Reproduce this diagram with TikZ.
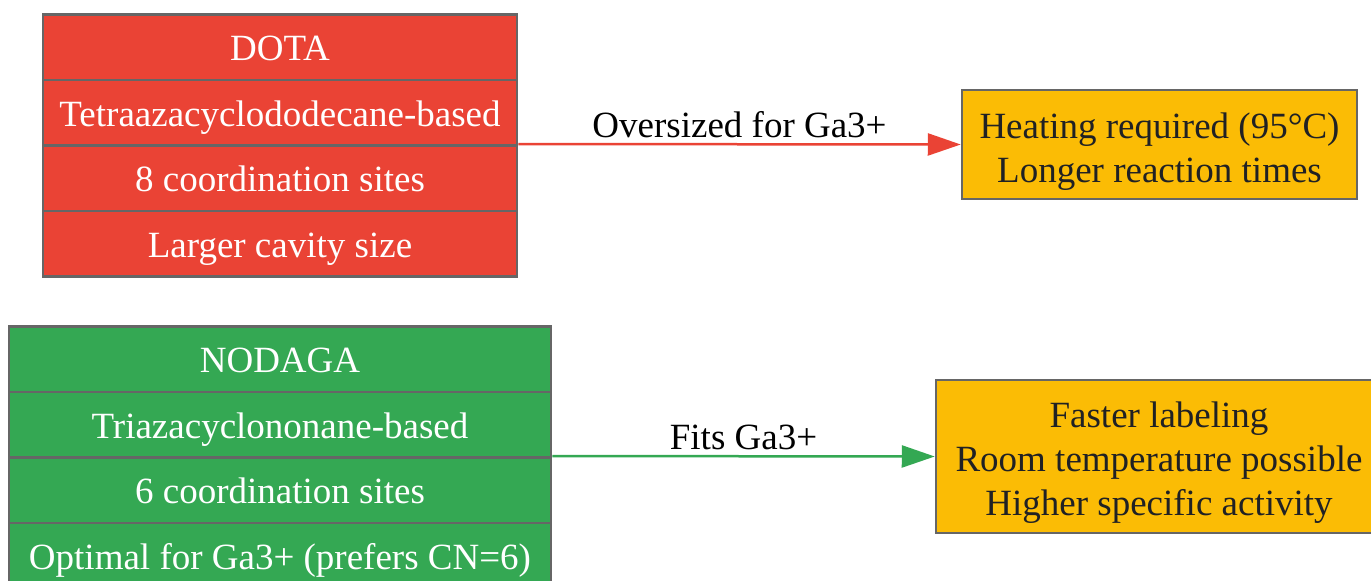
\documentclass[tikz,border=0pt]{standalone}
\usepackage{fontspec}
\setmainfont{Liberation Serif}
\usetikzlibrary{arrows.meta}
\definecolor{gred}{HTML}{EA4335}
\definecolor{ggreen}{HTML}{34A853}
\definecolor{gorange}{HTML}{FBBC05}
\definecolor{bordergray}{HTML}{666666}
\definecolor{darktext}{HTML}{202124}
\tikzset{
  cell/.style={draw=bordergray, line width=2.5pt, rectangle, inner sep=0pt, align=center,
    font=\fontsize{37}{44}\selectfont, text=white, text height=35pt, text depth=8pt},
  redcell/.style={cell, fill=gred, minimum width=474pt, minimum height=65.5pt},
  greencell/.style={cell, fill=ggreen, minimum width=542pt, minimum height=65.5pt},
  resultbox/.style={draw=bordergray, line width=2.5pt, rectangle, fill=gorange, inner sep=0pt},
  resulttext/.style={inner sep=0pt, align=center, font=\fontsize{37}{44}\selectfont, text=darktext},
  conn/.style={line width=2.5pt, -{Triangle[length=33pt,width=22pt]}},
  elabel/.style={font=\fontsize{37}{44}\selectfont, text=black}
}
\begin{document}
\begin{tikzpicture}[x=1pt,y=-1pt]
\useasboundingbox (0,0) rectangle (1371,581);
% DOTA
\node[redcell] (d1) at (280,47) {DOTA};
\node[redcell] (d2) at (280,112.5) {Tetraazacyclododecane-based};
\node[redcell] (d3) at (280,178) {8 coordination sites};
\node[redcell] (d4) at (280,243.5) {Larger cavity size};
% NODAGA
\node[greencell] (n1) at (280,359) {NODAGA};
\node[greencell] (n2) at (280,424.5) {Triazacyclononane-based};
\node[greencell] (n3) at (280,490) {6 coordination sites};
\node[greencell] (n4) at (280,555.5) {Optimal for Ga3+ (prefers CN=6)};
% results
\node[resultbox, minimum width=395pt, minimum height=109pt] (o1) at (1159.5,144.5) {};
\node[resulttext] (o1t) at ([yshift=-7pt]o1.center) {Heating required (95°C)\\Longer reaction times};
\node[resultbox, minimum width=446pt, minimum height=153pt] (o2) at (1159,456.5) {};
\node[resulttext] (o2t) at ([yshift=-6pt]o2.center) {Faster labeling\\Room temperature possible\\Higher specific activity};
% connectors
\draw[conn, draw=gred, fill=gred] (d3.north east) -- node[elabel, above=2pt] {Oversized for Ga3+} (o1.west);
\draw[conn, draw=ggreen, fill=ggreen] (n3.north east) -- node[elabel, above=2pt] {Fits Ga3+} (o2.west);
\end{tikzpicture}
\end{document}
